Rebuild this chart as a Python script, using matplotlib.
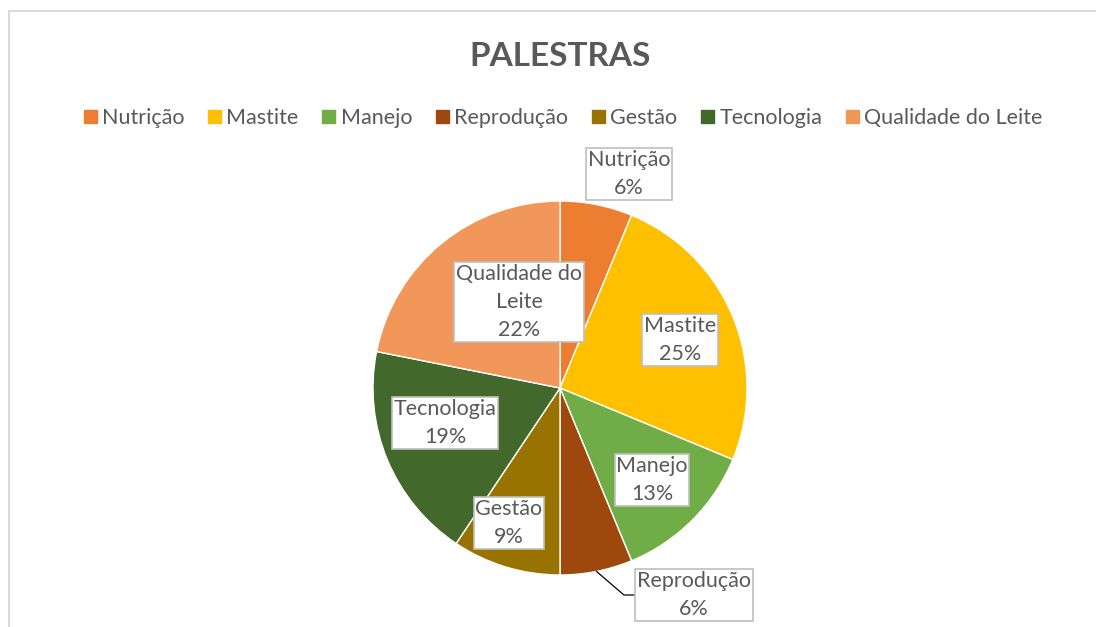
import numpy as np
import matplotlib
matplotlib.use("Agg")
from matplotlib import pyplot as plt
from matplotlib.patches import Rectangle

plt.rcParams['font.family'] = ['Lato', 'DejaVu Sans']

# data
categories = ['Nutrição', 'Mastite', 'Manejo', 'Reprodução', 'Gestão', 'Tecnologia', 'Qualidade do Leite']
counts = [2, 8, 4, 2, 3, 6, 7]
colors = ['#ED7D31', '#FFC000', '#70AD47', '#9E480E', '#997300', '#43682B', '#F1975A']
label_names = ['Nutrição', 'Mastite', 'Manejo', 'Reprodução', 'Gestão', 'Tecnologia', 'Qualidade do\nLeite']
# label box centres (data units, radius = 1)
label_pos = [(0.369, 1.144), (0.642, 0.257), (0.492, -0.492), (0.717, -1.107),
             (-0.273, -0.722), (-0.615, -0.187), (-0.219, 0.460)]

W, H = 1096, 627
fig = plt.figure(figsize=(W / 100, H / 100), dpi=100)

# chart frame
fig.patches.append(Rectangle((9 / W, -0.05), 1.2, 1 - 11 / H + 0.05, transform=fig.transFigure,
                             fill=False, edgecolor='#d9d9d9', linewidth=1.5))

cx, cy, r = 560, 388, 187
ax = fig.add_axes([(cx - r) / W, (H - cy - r) / H, 2 * r / W, 2 * r / H])
wedges, _ = ax.pie(counts, colors=colors, startangle=90, counterclock=False, radius=1,
                   wedgeprops=dict(edgecolor='white', linewidth=1))
ax.set_xlim(-1, 1)
ax.set_ylim(-1, 1)
ax.set_aspect('equal')
ax.axis('off')

total = sum(counts)
for name, v, (x, y) in zip(label_names, counts, label_pos):
    pct = int(v / total * 100 + 0.5)
    ax.text(x, y, f'{name}\n{pct}%', ha='center', va='center', fontsize=15.5, color='#595959',
            linespacing=1.5, clip_on=False, zorder=5,
            bbox=dict(boxstyle='square,pad=0.08', facecolor='white', edgecolor='#bfbfbf', linewidth=1.2))

# leader line for Reprodução
w = wedges[3]
mid = np.deg2rad((w.theta1 + w.theta2) / 2)
ax.plot([np.cos(mid), 0.342, 0.40], [np.sin(mid), -1.107, -1.107], color='black', lw=0.9,
        clip_on=False, zorder=4)

fig.text(cx / W, 1 - 56 / H, 'PALESTRAS', ha='center', va='center', fontsize=24,
         fontweight='bold', color='#595959')

handles = [Rectangle((0, 0), 1, 1, color=c) for c in colors]
fig.legend(handles, categories, loc='center', bbox_to_anchor=(563 / W, 1 - 118 / H), ncol=7,
           frameon=False, fontsize=15.5, handlelength=0.6, handleheight=0.6, handletextpad=0.25,
           columnspacing=1.1, labelcolor='#595959')

fig.savefig('out.png', dpi=100)
